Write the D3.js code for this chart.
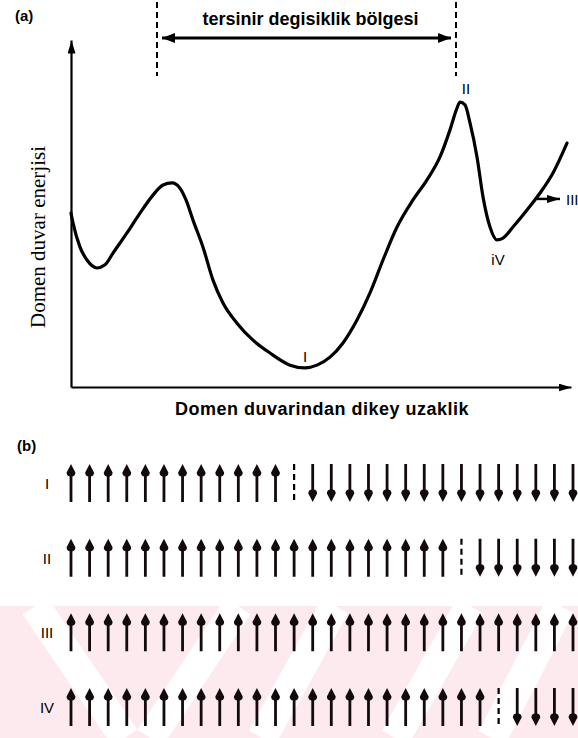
<!DOCTYPE html>
<html>
<head>
<meta charset="utf-8">
<script src="https://cdnjs.cloudflare.com/ajax/libs/d3/7.8.5/d3.min.js"></script>
<style>
  body { margin: 0; background: #fff; }
  svg { display: block; }
  text { fill: #000; }
  .sans { font-family: "Liberation Sans", Arial, sans-serif; }
  .serif { font-family: "Liberation Serif", "Times New Roman", serif; }
</style>
</head>
<body>
<div id="graph"></div>
<script>
var width = 578;
var height = 738;

// (a) domain wall energy vs. distance, both on a 0-100 scale
var wallDistance = [0, 0.4, 1.8, 3.2, 5.2, 6.8, 8.4, 11.2, 13.8, 16.4, 18.4, 20.2, 21.8, 23.0, 24.4, 26.4,
  28.4, 30.4, 33.2, 36.4, 39.8, 43.8, 46.8, 49.2, 51.8, 54.4, 57.2, 59.8, 62.4, 65.2, 68.4, 71.2, 73.8,
  75.8, 77.2, 77.8, 78.8, 79.8, 81.2, 82.4, 83.8, 85.2, 86.4, 88.4, 91.2, 93.8, 96.4, 99.2];
var wallEnergy = [50.1, 47.3, 40.3, 36.6, 34.3, 35.2, 38.6, 44.4, 50.1, 55.3, 58.2, 58.8, 57.3, 53.9, 48.1, 40.3,
  30.8, 24.2, 18.4, 13.5, 9.8, 6.3, 5.5, 6.3, 8.6, 12.7, 19.3, 27.1, 36.6, 46.1, 53.9, 59.7, 66.3,
  74.1, 80.4, 82.1, 81.3, 76.1, 66.3, 54.8, 46.1, 42.4, 42.9, 46.1, 51.0, 55.9, 61.7, 70.3];

// state labels placed on the curve
var stateNames = ["I", "II", "iV", "III"];
var stateX = [46.8, 79.0, 85.4, 99.0];
var stateY = [7.2, 84.4, 35.2, 52.4];

// irreversible change region (between the two energy peaks)
var regionStart = 17.2;
var regionEnd = 77.0;
var regionTitle = "tersinir degisiklik bölgesi";
var xTitle = "Domen duvarindan dikey uzaklik";
var yTitle = "Domen duvar enerjisi";

// (b) spin rows: how many moments point up, then the wall, then down
var rowLabels = ["I", "II", "III", "IV"];
var upCounts = [12, 21, 28, 23];
var downCounts = [15, 6, 0, 4];

////////////////////////////////////////////////////////////////////////////////
/*                        HELPERS                                             */
////////////////////////////////////////////////////////////////////////////////

// spin arrow as one filled path (teardrop head), tip at (x, tipY), tail at (x, tailY)
function spinPath(x, tipY, tailY) {
  var d = tailY > tipY ? 1 : -1;
  var w = 1.4, hw = 4.4;
  return "M" + x + "," + tipY +
    "Q" + (x + 1.5) + "," + (tipY + d * 3) + " " + (x + hw) + "," + (tipY + d * 8.5) +
    "Q" + (x + hw) + "," + (tipY + d * 12) + " " + (x + w) + "," + (tipY + d * 12.5) +
    "L" + (x + w) + "," + tailY +
    "L" + (x - w) + "," + tailY +
    "L" + (x - w) + "," + (tipY + d * 12.5) +
    "Q" + (x - hw) + "," + (tipY + d * 12) + " " + (x - hw) + "," + (tipY + d * 8.5) +
    "Q" + (x - 1.5) + "," + (tipY + d * 3) + " " + x + "," + tipY + "Z";
}

// arrowhead whose tip lands exactly on the line end
function addMarker(defs, id, len, half) {
  defs.append("marker")
    .attr("id", id)
    .attr("viewBox", "0 -" + half + " " + len + " " + (half * 2))
    .attr("refX", len)
    .attr("refY", 0)
    .attr("markerUnits", "userSpaceOnUse")
    .attr("markerWidth", len)
    .attr("markerHeight", half * 2)
    .attr("orient", "auto-start-reverse")
    .append("path")
    .attr("d", "M0,-" + half + "L" + len + ",0L0," + half + "Z")
    .attr("fill", "#000");
}

/* MAIN */
var svg = d3.select("#graph")
  .append("svg")
  .attr("width", width)
  .attr("height", height);

var defs = svg.append("defs");
addMarker(defs, "axisHead", 13, 4);
addMarker(defs, "spanHead", 13, 5);

// pink watermark band at the bottom of the scan
var wm = svg.append("g");
wm.append("rect")
  .attr("x", 0).attr("y", 606)
  .attr("width", width).attr("height", height - 606)
  .attr("fill", "#fdeaee");
var stripes = [[35, 606, 125, 738], [150, 738, 238, 606], [335, 606, 262, 738],
  [395, 738, 470, 606], [560, 606, 492, 738]];
wm.selectAll("line")
  .data(stripes)
  .enter()
  .append("line")
  .attr("x1", function (d) { return d[0]; })
  .attr("y1", function (d) { return d[1]; })
  .attr("x2", function (d) { return d[2]; })
  .attr("y2", function (d) { return d[3]; })
  .attr("stroke", "#fff")
  .attr("stroke-width", 30);

// ---------------- (a) ----------------
var x = d3.scaleLinear().domain([0, 100]).range([71, 571]);
var y = d3.scaleLinear().domain([0, 100]).range([387, 40]);

var chart = svg.append("g");

chart.append("g")
  .attr("transform", "translate(" + x(0) + ",0)")
  .call(d3.axisLeft(y).ticks(0).tickSizeOuter(0))
  .select(".domain")
  .attr("stroke-width", 2.2)
  .attr("marker-end", "url(#axisHead)");

chart.append("g")
  .attr("transform", "translate(0," + y(0) + ")")
  .call(d3.axisBottom(x).ticks(0).tickSizeOuter(0))
  .select(".domain")
  .attr("stroke-width", 2.2)
  .attr("marker-end", "url(#axisHead)");

var pts = wallDistance.map(function (d, i) { return [d, wallEnergy[i]]; });
var line = d3.line()
  .x(function (d) { return x(d[0]); })
  .y(function (d) { return y(d[1]); })
  .curve(d3.curveMonotoneX);

chart.append("path")
  .datum(pts)
  .attr("d", line)
  .attr("fill", "none")
  .attr("stroke", "#000")
  .attr("stroke-width", 3.2)
  .attr("stroke-linejoin", "round")
  .attr("stroke-linecap", "round");

// region markers: dashed verticals + double arrow + title
[regionStart, regionEnd].forEach(function (v) {
  chart.append("line")
    .attr("x1", x(v)).attr("x2", x(v))
    .attr("y1", 2).attr("y2", 76)
    .attr("stroke", "#000")
    .attr("stroke-width", 2)
    .attr("stroke-dasharray", "6,4");
});
chart.append("line")
  .attr("x1", x(regionStart) + 5).attr("x2", x(regionEnd) - 5)
  .attr("y1", 38).attr("y2", 38)
  .attr("stroke", "#000")
  .attr("stroke-width", 3)
  .attr("marker-start", "url(#spanHead)")
  .attr("marker-end", "url(#spanHead)");

chart.append("text")
  .attr("class", "sans")
  .attr("x", (x(regionStart) + x(regionEnd)) / 2 + 4)
  .attr("y", 25)
  .attr("text-anchor", "middle")
  .attr("font-size", "18px")
  .attr("font-weight", "bold")
  .text(regionTitle);

chart.append("text")
  .attr("class", "sans")
  .attr("x", 15).attr("y", 21)
  .attr("font-size", "15px")
  .attr("font-weight", "bold")
  .text("(a)");

chart.append("text")
  .attr("class", "sans")
  .attr("x", 322).attr("y", 415)
  .attr("text-anchor", "middle")
  .attr("font-size", "18px")
  .attr("font-weight", "bold")
  .attr("letter-spacing", "0.5px")
  .text(xTitle);

chart.append("text")
  .attr("class", "serif")
  .attr("transform", "translate(45,237) rotate(-90)")
  .attr("text-anchor", "middle")
  .attr("font-size", "21px")
  .text(yTitle);

chart.selectAll(".state")
  .data(stateNames)
  .enter()
  .append("text")
  .attr("class", "sans state")
  .attr("x", function (d, i) { return x(stateX[i]); })
  .attr("y", function (d, i) { return y(stateY[i]); })
  .attr("text-anchor", function (d, i) { return i == 3 ? "start" : "middle"; })
  .attr("font-size", "15px")
  .text(function (d) { return d; });

// little pointer toward III
chart.append("line")
  .attr("x1", x(93.2)).attr("x2", x(97.8))
  .attr("y1", y(54.2)).attr("y2", y(54.2))
  .attr("stroke", "#000")
  .attr("stroke-width", 2.5)
  .attr("marker-end", "url(#axisHead)");

// ---------------- (b) ----------------
svg.append("text")
  .attr("class", "sans")
  .attr("x", 17).attr("y", 451)
  .attr("font-size", "15px")
  .attr("font-weight", "bold")
  .text("(b)");

var slot = d3.scaleLinear().domain([0, 27]).range([71, 573]);
var rowY = d3.scalePoint().domain(rowLabels).range([483, 707]);
var half = 19;

var rows = svg.selectAll(".row")
  .data(rowLabels)
  .enter()
  .append("g")
  .attr("class", "row");

rows.append("text")
  .attr("class", "sans")
  .attr("x", 47)
  .attr("y", function (d) { return rowY(d) + 6; })
  .attr("text-anchor", "middle")
  .attr("font-size", "15px")
  .text(function (d) { return d; });

rows.each(function (label, r) {
  var g = d3.select(this);
  var cy = rowY(label);
  var spins = [];
  for (var i = 0; i < upCounts[r]; i++) spins.push({ slot: i, up: true });
  var wallSlot = upCounts[r];
  for (var j = 0; j < downCounts[r]; j++) spins.push({ slot: wallSlot + 1 + j, up: false });

  g.selectAll("path")
    .data(spins)
    .enter()
    .append("path")
    .attr("d", function (d) {
      var px = slot(d.slot);
      return d.up ? spinPath(px, cy - half, cy + half) : spinPath(px, cy + half, cy - half);
    })
    .attr("fill", "#120a0c");

  if (downCounts[r] > 0) {
    g.append("line")
      .attr("x1", slot(wallSlot)).attr("x2", slot(wallSlot))
      .attr("y1", cy - half).attr("y2", cy + half)
      .attr("stroke", "#000")
      .attr("stroke-width", 2.2)
      .attr("stroke-dasharray", "6,4");
  }
});
</script>
</body>
</html>
